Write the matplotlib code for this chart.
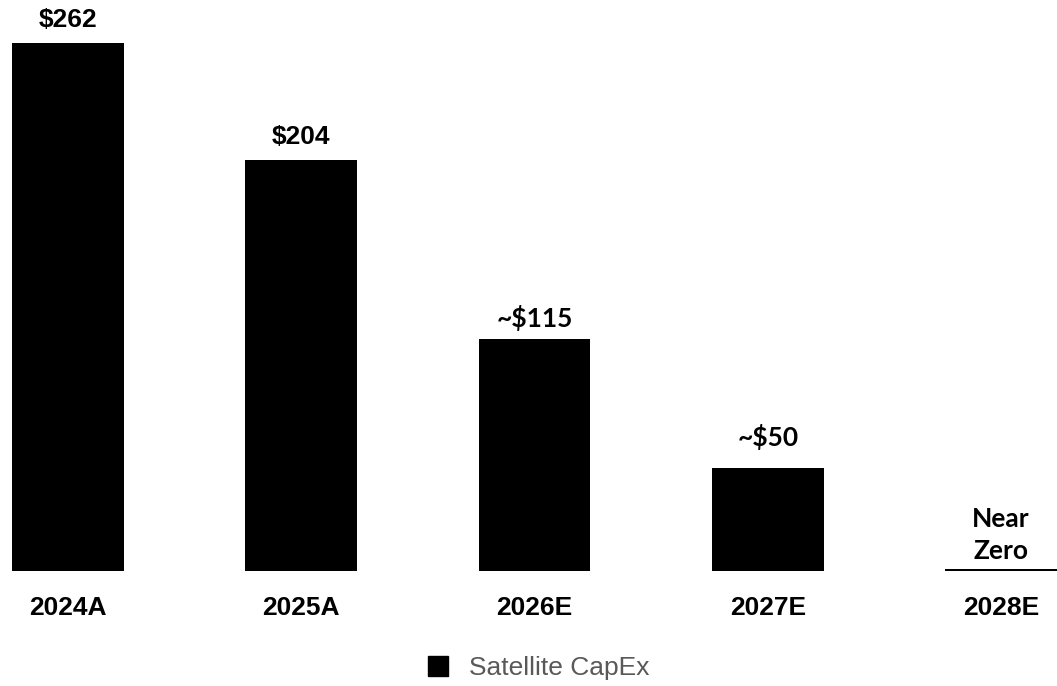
import matplotlib
matplotlib.use("Agg")
import matplotlib.pyplot as plt
from matplotlib.patches import Patch

categories = ["2024A", "2025A", "2026E", "2027E", "2028E"]
values = [262, 204, 115, 51, 1]
labels = ["$262", "$204", "~$115", "~$50", "Near\nZero"]
label_fonts = ["Liberation Sans", "Liberation Sans", "Lato", "Lato", "Lato"]
series_name = "Satellite CapEx"

# vertical offsets (points) of the value labels above each bar
label_offsets = [8, 8, 6, 13, 4.5]

fig = plt.figure(figsize=(10.57, 6.86), dpi=100)
ax = fig.add_axes([12/1057, 115/686, 1045/1057, 528/686])
x = list(range(len(categories)))
bars = ax.bar(x, values, width=0.48, color="black")
ax.set_xlim(-0.24, 4.24)
ax.set_ylim(0, 262)
for s in ax.spines.values():
    s.set_visible(False)
ax.set_yticks([])
ax.set_xticks(x)
ax.set_xticklabels(categories, fontsize=19, fontweight="bold", family="Liberation Sans")
ax.tick_params(axis="x", length=0, pad=18)

for xi, v, lab, fam, off in zip(x, values, labels, label_fonts, label_offsets):
    ax.annotate(lab, (xi, v), xytext=(0, off), textcoords="offset points",
                ha="center", va="bottom", fontsize=19, fontweight="bold",
                family=fam, linespacing=1.4)

fig.legend(handles=[Patch(color="black", label=series_name)],
           loc="center", bbox_to_anchor=(0.51, 0.026), frameon=False,
           prop={"family": "Liberation Sans", "size": 19},
           labelcolor="#595959", handlelength=0.75, handleheight=0.75,
           handletextpad=0.8)

fig.savefig("out.png", dpi=100)
